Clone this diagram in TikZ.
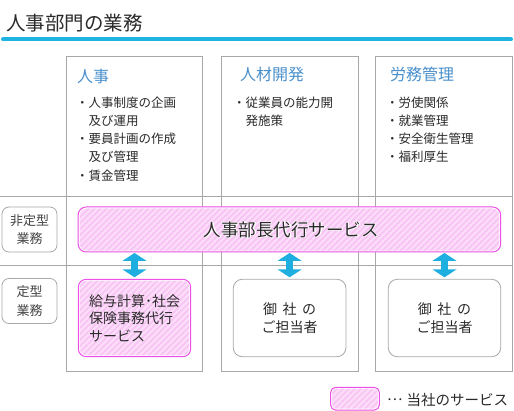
\documentclass[tikz,border=0pt]{standalone}
\usepackage{fontspec}
\setmainfont{Noto Sans CJK JP}
\usetikzlibrary{arrows.meta}
\definecolor{gridgray}{HTML}{A8A8A8}
\definecolor{headblue}{HTML}{4A90CC}
\definecolor{titleblue}{HTML}{1FB3E1}
\definecolor{pinkfill}{HTML}{F8C4F4}
\definecolor{pinkstripe}{HTML}{FBDCF9}
\definecolor{pinkborder}{HTML}{EC50E6}
\definecolor{arrowblue}{HTML}{1FAEE0}
\definecolor{txt}{HTML}{2A2A2A}
\definecolor{lbltxt}{HTML}{444444}
\newcommand{\fs}[2]{\fontsize{#1}{#2}\selectfont}
\tikzset{
  svcbox/.style={rounded corners=#1, fill=pinkfill, draw=pinkborder, line width=1pt,
    path picture={
      \foreach \k in {-90,-84,...,440}
        \draw[pinkstripe, line width=2.2pt] ([xshift=\k pt]path picture bounding box.south west) -- ++(90pt,90pt);
      \draw[white, line width=2.8pt, rounded corners=#1] (path picture bounding box.south west) rectangle (path picture bounding box.north east);
    }},
  svcbox/.default=8pt,
  plainbox/.style={rounded corners=9pt, draw=gridgray, line width=0.8pt, fill=white},
  lblbox/.style={rounded corners=7pt, draw=gridgray, line width=0.8pt, fill=white,
    minimum width=55pt, minimum height=45pt, align=center, text=lbltxt, font=\fs{13}{18.3}},
  colhead/.style={anchor=west, text=headblue, font=\fs{16}{18}},
  item/.style={anchor=west, text=txt, font=\fs{12.5}{14}},
  dbl/.style={arrowblue, line width=7pt, {Triangle[width=24pt,length=8pt]}-{Triangle[width=24pt,length=8pt]}},
  grid/.style={draw=gridgray, line width=0.8pt},
}
\begin{document}
\begin{tikzpicture}[x=1pt,y=-1pt, every node/.style={inner sep=0pt, outer sep=0pt}]
\useasboundingbox (0,0) rectangle (514,411);
\fill[white] (0,0) rectangle (514,411);
% title
\node[anchor=west, text=txt, font=\fs{19.5}{22}] (title) at (6,23.5) {人事部門の業務};
\draw[titleblue, line width=4pt, line cap=round] (3,39.5) -- (511,39.5);
% grid
\draw[grid] (66,56) rectangle (202,371);
\draw[grid] (221,56) rectangle (358,371);
\draw[grid] (375,56) rectangle (512,371);
\draw[grid] (0,196) -- (512,196);
\draw[grid] (0,265) -- (512,265);
% column 1
\node[colhead] (h1) at (77,76.5) {人事};
\node[item] (i11) at (76,102.5) {・人事制度の企画};
\node[item] (i12) at (88.5,120.7) {及び運用};
\node[item] (i13) at (76,138.9) {・要員計画の作成};
\node[item] (i14) at (88.5,157.1) {及び管理};
\node[item] (i15) at (76,175.3) {・賃金管理};
% column 2
\node[colhead] (h2) at (240,74.5) {人材開発};
\node[item] (i21) at (233,102.5) {・従業員の能力開};
\node[item] (i22) at (245.5,120.7) {発施策};
% column 3
\node[colhead] (h3) at (390,74.5) {労務管理};
\node[item] (i31) at (386,102.5) {・労使関係};
\node[item] (i32) at (386,120.7) {・就業管理};
\node[item] (i33) at (386,138.9) {・安全衛生管理};
\node[item] (i34) at (386,157.1) {・福利厚生};
% row labels
\node[lblbox] (l1) at (29.5,229.5) {非定型\\業務};
\node[lblbox] (l2) at (29.5,301) {定型\\業務};
% big service box
\node[svcbox, minimum width=422.5pt, minimum height=45pt] (big) at (289.4,229.5) {};
\coordinate (bigc) at ([xshift=2pt]big.center);
\node[text=white, font=\fs{17.5}{20}\addfontfeature{FakeBold=5}] (bighalo) at (bigc) {人事部長代行サービス};
\node[text=txt, font=\fs{17.5}{20}] (bigtxt) at (bigc) {人事部長代行サービス};
% bottom boxes
\node[svcbox, minimum width=112.4pt, minimum height=77.4pt, align=left, text=txt, font=\fs{14}{17.5}] (b1) at (134.5,318) {給与計算･社会\\保険事務代行\\サービス};
\node[plainbox, minimum width=112.7pt, minimum height=77.4pt, align=center, text=txt, font=\fs{14}{18.5}] (b2) at (289.6,318) {御\hspace{0.4em}社\hspace{0.4em}の\\ご担当者};
\node[plainbox, minimum width=112.4pt, minimum height=77.4pt, align=center, text=txt, font=\fs{14}{18.5}] (b3) at (444.5,318) {御\hspace{0.4em}社\hspace{0.4em}の\\ご担当者};
% arrows
\draw[dbl, shorten <=1pt, shorten >=2pt] (big.south -| b1.north) -- (b1.north);
\draw[dbl, shorten <=1pt, shorten >=2pt] (big.south -| b2.north) -- (b2.north);
\draw[dbl, shorten <=1pt, shorten >=2pt] (big.south -| b3.north) -- (b3.north);
% legend
\node[svcbox=5pt, minimum width=48.6pt, minimum height=22.7pt] (leg) at (355,398.7) {};
\node[anchor=west, text=txt, font=\fs{14.5}{16}] (legtxt) at (387,399.5) {\raisebox{0.3em}{…}\hspace{0.3em}当社のサービス};
\end{tikzpicture}
\end{document}
